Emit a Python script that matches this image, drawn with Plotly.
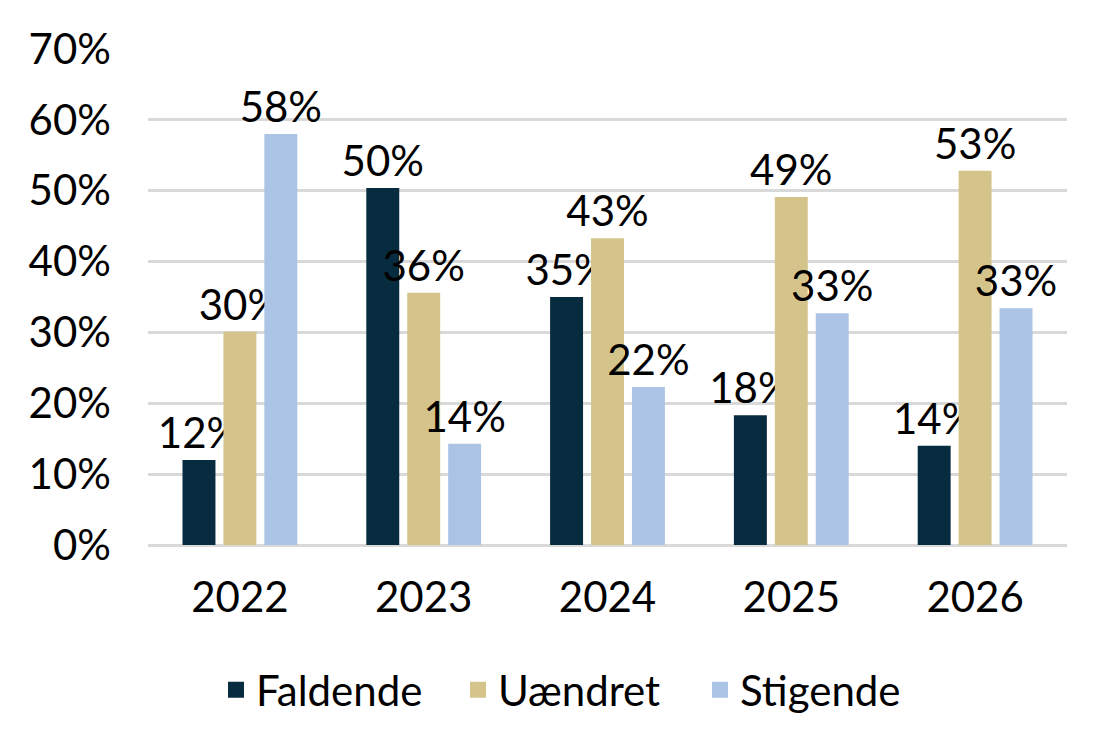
import plotly.graph_objects as go

years = ["2022", "2023", "2024", "2025", "2026"]
faldende = [0.120, 0.504, 0.350, 0.183, 0.140]
uaendret = [0.301, 0.356, 0.433, 0.491, 0.528]
stigende = [0.580, 0.143, 0.223, 0.327, 0.334]

series = [
    ("Faldende", faldende, "#072b3f"),
    ("Uændret", uaendret, "#d4c48b"),
    ("Stigende", stigende, "#abc3e4"),
]

FONT = "Lato"
FS = 42
fig = go.Figure()
for name, vals, col in series:
    fig.add_trace(go.Bar(
        x=years, y=vals, name=name, marker_color=col, marker_line_width=0,
        texttemplate="%{y:.0%}", textposition="outside", cliponaxis=False,
        constraintext="none",
        textfont=dict(family=FONT, size=FS, color="#000000"),
        showlegend=False,
    ))
for name, vals, col in series:
    fig.add_trace(go.Scatter(
        x=[None], y=[None], mode="markers", name=name,
        marker=dict(symbol="square", size=21, color=col),
    ))

fig.update_layout(
    width=1109, height=734,
    paper_bgcolor="white", plot_bgcolor="white",
    margin=dict(l=140, r=50, t=41, b=197),
    barmode="group", bargap=0.332, bargroupgap=0.195,
    font=dict(family=FONT, size=FS, color="#000000"),
    xaxis=dict(showgrid=False, showline=False, ticks="", ticklabelstandoff=24,
               tickfont=dict(family=FONT, size=FS)),
    yaxis=dict(range=[0, 0.7], dtick=0.1, tickformat=".0%",
               showgrid=True, gridcolor="#d9d9d9", gridwidth=2.5,
               zeroline=True, zerolinecolor="#d9d9d9", zerolinewidth=2.5,
               showline=False, ticks="", ticklabelstandoff=36,
               tickfont=dict(family=FONT, size=FS)),
    legend=dict(orientation="h", x=0.469, xanchor="center", y=-0.292, yanchor="middle",
                font=dict(family=FONT, size=FS), itemwidth=30, tracegroupgap=0,
                entrywidth=197, entrywidthmode="pixels"),
)

fig.write_html("out.html")
